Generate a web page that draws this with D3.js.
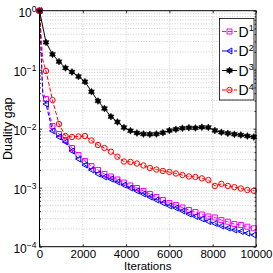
<!DOCTYPE html>
<html>
<head>
<meta charset="utf-8">
<script src="https://cdn.jsdelivr.net/npm/d3@7"></script>
<style>
  body { margin: 0; background: #fff; }
  svg { display: block; font-family: "Liberation Sans", Arial, Helvetica, sans-serif; }
</style>
</head>
<body>
<div id="chart"></div>
<script>
// --- Data ---
const ITERS = [0, 300, 600, 900, 1200, 1500, 1800, 2100, 2400, 2700, 3000, 3300,
  3600, 3900, 4200, 4500, 4800, 5100, 5400, 5700, 6000, 6300, 6600, 6900, 7200,
  7500, 7800, 8100, 8400, 8700, 9000, 9300, 9600, 9900];

const D1 = [1, 0.0319, 0.0111, 0.00813, 0.00643, 0.00471, 0.00358, 0.00283, 0.00233,
  0.00200, 0.00171, 0.00155, 0.00138, 0.00122, 0.00109, 0.000988, 0.000879, 0.000782,
  0.000696, 0.000619, 0.000550, 0.000509, 0.000462, 0.000419, 0.000387, 0.000351,
  0.000325, 0.000313, 0.000283, 0.000265, 0.000242, 0.000233, 0.000218, 0.000205];

const D2 = [1, 0.0262, 0.00914, 0.00723, 0.00595, 0.00419, 0.00306, 0.00242, 0.00200,
  0.00171, 0.00152, 0.00140, 0.00125, 0.00111, 0.000988, 0.000879, 0.000782, 0.000696,
  0.000619, 0.000550, 0.000490, 0.000453, 0.000403, 0.000358, 0.000325, 0.000295,
  0.000267, 0.000247, 0.000224, 0.000207, 0.000192, 0.000181, 0.000169, 0.000158];

const D3 = [1, 0.291, 0.182, 0.137, 0.107, 0.0914, 0.0767, 0.0626, 0.0424, 0.0295,
  0.0220, 0.0160, 0.0130, 0.0105, 0.00925, 0.00846, 0.00813, 0.00804, 0.00813,
  0.00855, 0.00932, 0.00977, 0.0102, 0.0104, 0.0103, 0.0106, 0.0105, 0.00932,
  0.00869, 0.00836, 0.00804, 0.00782, 0.00752, 0.00723];

const D4 = [1, 0.0951, 0.0306, 0.0120, 0.00752, 0.00723, 0.00738, 0.00752, 0.00631,
  0.00529, 0.00471, 0.00408, 0.00335, 0.00278, 0.00273, 0.00257, 0.00238, 0.00216,
  0.00203, 0.00192, 0.00185, 0.00174, 0.00164, 0.00155, 0.00152, 0.00144, 0.00135,
  0.00107, 0.00116, 0.00107, 0.00102, 0.000969, 0.000914, 0.000890];

// early unmarked points of the dense curves (iteration 150)
const EARLY_ITER = 150;
const EARLY = [0.0419, 0.0373, null, 0.146];

const SERIES_NAMES = ['1', '2', '3', '4'];
const X_TICKS = [0, 2000, 4000, 6000, 8000, 10000];
const Y_TICKS = [1e-4, 1e-3, 1e-2, 1e-1, 1];
const Y_EXP = ['\u22124', '\u22123', '\u22122', '\u22121', '0'];

// --- Styles ---
const STYLE = [
  { color: '#ff00ff', dash: '4,2', marker: 'square', fill: 'none' },
  { color: '#0000ff', dash: '4,2', marker: 'triangle', fill: 'none' },
  { color: '#000000', dash: null, marker: 'hexagram', fill: '#000000' },
  { color: '#ff0000', dash: '4,2', marker: 'circle', fill: 'none' },
];

const W = 273, H = 273;
const margin = { top: 10.7, right: 17, bottom: 26.3, left: 39.5 };

const svg = d3.select('#chart').append('svg').attr('width', W).attr('height', H);

const x = d3.scaleLinear().domain([0, 10000]).range([margin.left, W - margin.right]);
const y = d3.scaleLog().domain([1e-4, 1]).range([H - margin.bottom, margin.top]);

// --- Grid (dotted, MATLAB style) ---
const grid = svg.append('g').attr('stroke', '#b8b8b8').attr('stroke-width', 0.7)
  .attr('stroke-dasharray', '1,1.6');
grid.selectAll('line.v').data(X_TICKS.slice(1, -1)).join('line')
  .attr('x1', d => x(d)).attr('x2', d => x(d))
  .attr('y1', y.range()[1]).attr('y2', y.range()[0]);
grid.selectAll('line.h').data(y.ticks().filter(d => d > 1e-4 && d < 1)).join('line')
  .attr('x1', x.range()[0]).attr('x2', x.range()[1])
  .attr('y1', d => y(d)).attr('y2', d => y(d));

// --- Markers ---
function markerPath(type) {
  const p = d3.path();
  if (type === 'square') {
    p.rect(-2.5, -2.5, 5, 5);
  } else if (type === 'triangle') {
    p.moveTo(-3, 0); p.lineTo(2.4, -3); p.lineTo(2.4, 3); p.closePath();
  } else if (type === 'circle') {
    p.moveTo(2.7, 0); p.arc(0, 0, 2.7, 0, 2 * Math.PI);
  } else {
    const ro = 3.4, ri = ro / Math.sqrt(3);
    for (let i = 0; i < 12; i++) {
      const r = i % 2 ? ri : ro;
      const a = -Math.PI / 2 + i * Math.PI / 6;
      if (i === 0) p.moveTo(r * Math.cos(a), r * Math.sin(a));
      else p.lineTo(r * Math.cos(a), r * Math.sin(a));
    }
    p.closePath();
  }
  return p.toString();
}

// --- Series ---
const line = d3.line().x(d => x(d[0])).y(d => y(d[1]));
const plot = svg.append('g');

[D1, D2, D3, D4].forEach((vals, i) => {
  const st = STYLE[i];
  const pts = ITERS.map((it, k) => [it, vals[k]]);
  const linePts = EARLY[i] != null ? [pts[0], [EARLY_ITER, EARLY[i]], ...pts.slice(1)] : pts;
  plot.append('path')
    .attr('d', line(linePts))
    .attr('fill', 'none')
    .attr('stroke', st.color)
    .attr('stroke-width', 1)
    .attr('stroke-dasharray', st.dash);
  plot.append('g').selectAll('path').data(pts).join('path')
    .attr('transform', d => `translate(${x(d[0])},${y(d[1])})`)
    .attr('d', markerPath(st.marker))
    .attr('fill', st.fill)
    .attr('stroke', st.color)
    .attr('stroke-width', i === 2 ? 0.6 : 1);
});

// --- Axes ---
const fontSize = 11.5;
const xAxis = svg.append('g')
  .attr('transform', `translate(0,${y.range()[0]})`)
  .call(d3.axisBottom(x).tickValues(X_TICKS).tickSizeInner(-2.5).tickSizeOuter(0)
    .tickPadding(3).tickFormat(d3.format('d')));
xAxis.selectAll('text').attr('font-size', fontSize).attr('fill', '#000')
  .attr('font-family', '"Liberation Sans", Arial, sans-serif');

svg.append('g')
  .attr('transform', `translate(0,${y.range()[1]})`)
  .call(d3.axisTop(x).tickValues(X_TICKS).tickSizeInner(-2.5).tickSizeOuter(0).tickFormat(''));

const yAxis = svg.append('g')
  .attr('transform', `translate(${x.range()[0]},0)`)
  .call(d3.axisLeft(y).tickValues(Y_TICKS).tickSizeInner(-2.5).tickSizeOuter(0).tickPadding(3));
yAxis.selectAll('.tick text').each(function (d, k) {
  const t = d3.select(this);
  t.text(null)
    .attr('font-size', 12).attr('fill', '#000')
    .attr('font-family', '"Liberation Sans", Arial, sans-serif')
    .attr('dy', '0.45em');
  t.append('tspan').text('10');
  t.append('tspan').attr('dy', '-0.6em').attr('font-size', 8.5).text(Y_EXP[k]);
});

const minorY = y.ticks().filter(d => Y_TICKS.indexOf(d) < 0);
svg.append('g')
  .attr('transform', `translate(${x.range()[0]},0)`)
  .call(d3.axisLeft(y).tickValues(minorY).tickSizeInner(-1.5).tickSizeOuter(0).tickFormat(''));
svg.append('g')
  .attr('transform', `translate(${x.range()[1]},0)`)
  .call(d3.axisRight(y).tickValues(Y_TICKS).tickSizeInner(-2.5).tickSizeOuter(0).tickFormat(''));
svg.append('g')
  .attr('transform', `translate(${x.range()[1]},0)`)
  .call(d3.axisRight(y).tickValues(minorY).tickSizeInner(-1.5).tickSizeOuter(0).tickFormat(''));

svg.selectAll('.domain').remove();
svg.selectAll('.tick line').attr('stroke', '#000').attr('stroke-width', 0.8);

// frame
svg.append('rect')
  .attr('x', x.range()[0]).attr('y', y.range()[1])
  .attr('width', x.range()[1] - x.range()[0])
  .attr('height', y.range()[0] - y.range()[1])
  .attr('fill', 'none').attr('stroke', '#000').attr('stroke-width', 1);

// axis labels
svg.append('text')
  .attr('x', (x.range()[0] + x.range()[1]) / 2).attr('y', 269.5)
  .attr('text-anchor', 'middle').attr('font-size', 11.5).text('Iterations');
svg.append('text')
  .attr('transform', `translate(12,${(y.range()[0] + y.range()[1]) / 2}) rotate(-90)`)
  .attr('text-anchor', 'middle').attr('font-size', 12.5).text('Duality gap');

// --- Legend ---
const lg = svg.append('g');
lg.append('rect')
  .attr('x', 219.5).attr('y', 18.5).attr('width', 34.5).attr('height', 81.5)
  .attr('fill', '#fff').attr('stroke', '#000').attr('stroke-width', 0.8);
const entry = lg.selectAll('g.entry').data(SERIES_NAMES).join('g')
  .attr('transform', (d, i) => `translate(0,${31.5 + i * 19.5})`);
entry.append('line')
  .attr('x1', 222).attr('x2', 237).attr('y1', 0).attr('y2', 0)
  .attr('stroke', (d, i) => STYLE[i].color).attr('stroke-width', 1)
  .attr('stroke-dasharray', (d, i) => STYLE[i].dash);
entry.append('path')
  .attr('transform', 'translate(229.5,0)')
  .attr('d', (d, i) => markerPath(STYLE[i].marker))
  .attr('fill', (d, i) => STYLE[i].fill)
  .attr('stroke', (d, i) => STYLE[i].color)
  .attr('stroke-width', (d, i) => i === 2 ? 0.6 : 1);
const lt = entry.append('text').attr('x', 238.5).attr('y', 5).attr('font-size', 14);
lt.append('tspan').text('D');
lt.append('tspan').attr('dy', '-0.6em').attr('font-size', 9).text(d => d);
</script>
</body>
</html>
